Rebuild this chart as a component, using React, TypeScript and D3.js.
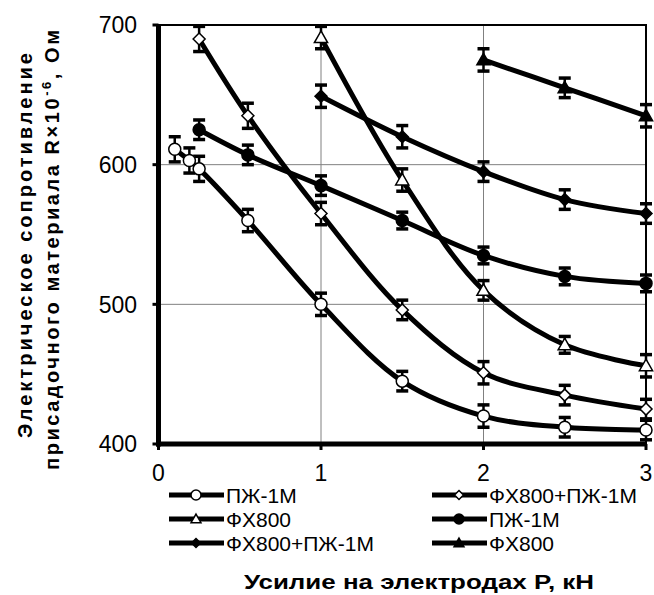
import React, { useEffect, useRef } from "react";
import * as d3 from "d3";

// x values (force P, kN) and resistance values for each series
const xOpenPzh = [0.1, 0.19, 0.25, 0.55, 1, 1.5, 2, 2.5, 3];
const yOpenPzh = [611, 603, 597, 560, 500, 445, 420, 412, 410];
const eOpenPzh = [9, 9, 9, 8, 8, 7, 8, 7, 7];

const xOpenMix = [0.25, 0.55, 1, 1.5, 2, 2.5, 3];
const yOpenMix = [690, 635, 565, 496, 451, 435, 425];
const eOpenMix = [9, 9, 8, 7, 8, 7, 7];

const xOpenFx = [1, 1.5, 2, 2.5, 3];
const yOpenFx = [691, 589, 510, 471, 456];
const eOpenFx = [8, 8, 7, 6, 8];

const xFilledPzh = [0.25, 0.55, 1, 1.5, 2, 2.5, 3];
const yFilledPzh = [625, 607, 585, 560, 535, 520, 515];
const eFilledPzh = [7, 7, 7, 6, 6, 6, 6];

const xFilledMix = [1, 1.5, 2, 2.5, 3];
const yFilledMix = [649, 620, 595, 575, 565];
const eFilledMix = [8, 8, 7, 7, 7];

const xFilledFx = [2, 2.5, 3];
const yFilledFx = [675, 655, 635];
const eFilledFx = [8, 7, 8];

const xTicks = [0, 1, 2, 3];
const yTicks = [400, 500, 600, 700];

const seriesList = [
  { name: "ПЖ-1М", marker: "circle", filled: false, xs: xOpenPzh, ys: yOpenPzh, es: eOpenPzh },
  { name: "ФХ800+ПЖ-1М", marker: "diamond", filled: false, xs: xOpenMix, ys: yOpenMix, es: eOpenMix },
  { name: "ФХ800", marker: "triangle", filled: false, xs: xOpenFx, ys: yOpenFx, es: eOpenFx },
  { name: "ПЖ-1М", marker: "circle", filled: true, xs: xFilledPzh, ys: yFilledPzh, es: eFilledPzh },
  { name: "ФХ800+ПЖ-1М", marker: "diamond", filled: true, xs: xFilledMix, ys: yFilledMix, es: eFilledMix },
  { name: "ФХ800", marker: "triangle", filled: true, xs: xFilledFx, ys: yFilledFx, es: eFilledFx },
];

const FONT = "'Liberation Sans', Arial, sans-serif";

function markerPath(type: string, s: number) {
  if (type === "circle") return d3.symbol(d3.symbolCircle, Math.PI * s * s)();
  if (type === "diamond") {
    return `M0,${-s}L${s},0L0,${s}L${-s},0Z`;
  }
  const h = s * 1.1;
  return `M0,${-h}L${h},${h * 0.75}L${-h},${h * 0.75}Z`;
}

const App = () => {
  const ref = useRef<SVGSVGElement>(null);

  useEffect(() => {
    const svg = d3.select(ref.current);
    svg.selectAll("*").remove();

    const x = d3.scaleLinear().domain([0, 3]).range([158.5, 646]);
    const y = d3.scaleLinear().domain([400, 700]).range([444, 25]);

    const g = svg.append("g");

    // grid
    g.selectAll("line.gx")
      .data([1, 2])
      .enter()
      .append("line")
      .attr("x1", (d) => x(d))
      .attr("x2", (d) => x(d))
      .attr("y1", y(400))
      .attr("y2", y(700))
      .attr("stroke", "#808080")
      .attr("stroke-width", 1);
    g.selectAll("line.gy")
      .data([500, 600])
      .enter()
      .append("line")
      .attr("x1", x(0))
      .attr("x2", x(3))
      .attr("y1", (d) => y(d))
      .attr("y2", (d) => y(d))
      .attr("stroke", "#808080")
      .attr("stroke-width", 1);

    // top/right frame
    g.append("path")
      .attr("d", `M${x(0)},${y(700)}H${x(3)}V${y(400)}`)
      .attr("fill", "none")
      .attr("stroke", "#000")
      .attr("stroke-width", 2);

    // series
    const line = d3
      .line<[number, number]>()
      .x((d) => x(d[0]))
      .y((d) => y(d[1]))
      .curve(d3.curveCatmullRom.alpha(0.5));

    seriesList.forEach((s) => {
      const pts: [number, number][] = s.xs.map((v, i) => [v, s.ys[i]]);
      g.append("path")
        .attr("d", line(pts))
        .attr("fill", "none")
        .attr("stroke", "#000")
        .attr("stroke-width", 5);

      const eb = g.append("g");
      pts.forEach((p, i) => {
        const cx = x(p[0]);
        const top = y(p[1] + s.es[i]);
        const bot = y(p[1] - s.es[i]);
        eb.append("line")
          .attr("x1", cx).attr("x2", cx)
          .attr("y1", top).attr("y2", bot)
          .attr("stroke", "#000").attr("stroke-width", 2.5);
        [top, bot].forEach((yy) => {
          eb.append("line")
            .attr("x1", cx - 6).attr("x2", cx + 6)
            .attr("y1", yy).attr("y2", yy)
            .attr("stroke", "#000").attr("stroke-width", 3.5);
        });
      });

      g.selectAll(null)
        .data(pts)
        .enter()
        .append("path")
        .attr("d", markerPath(s.marker, 6))
        .attr("transform", (d) => `translate(${x(d[0])},${y(d[1])})`)
        .attr("fill", s.filled ? "#000" : "#fff")
        .attr("stroke", "#000")
        .attr("stroke-width", 1.5);
    });

    // axes lines
    g.append("line")
      .attr("x1", x(0)).attr("x2", x(0))
      .attr("y1", y(700) - 1).attr("y2", y(400) + 2.5)
      .attr("stroke", "#000").attr("stroke-width", 5);
    g.append("line")
      .attr("x1", x(0) - 2.5).attr("x2", x(3) + 1)
      .attr("y1", y(400)).attr("y2", y(400))
      .attr("stroke", "#000").attr("stroke-width", 5);

    // ticks
    g.selectAll("line.ty")
      .data(yTicks)
      .enter()
      .append("line")
      .attr("x1", x(0) - 6).attr("x2", x(0))
      .attr("y1", (d) => y(d)).attr("y2", (d) => y(d))
      .attr("stroke", "#000").attr("stroke-width", 3);
    g.selectAll("line.tx")
      .data(xTicks)
      .enter()
      .append("line")
      .attr("x1", (d) => x(d)).attr("x2", (d) => x(d))
      .attr("y1", y(400)).attr("y2", y(400) + 6)
      .attr("stroke", "#000").attr("stroke-width", 3);

    // tick labels
    g.selectAll("text.yl")
      .data(yTicks)
      .enter()
      .append("text")
      .attr("x", 137)
      .attr("y", (d) => y(d))
      .attr("dy", "0.36em")
      .attr("text-anchor", "end")
      .style("font-family", FONT)
      .style("font-size", "23px")
      .text((d) => d);
    g.selectAll("text.xl")
      .data(xTicks)
      .enter()
      .append("text")
      .attr("x", (d) => x(d))
      .attr("y", 481)
      .attr("text-anchor", "middle")
      .style("font-family", FONT)
      .style("font-size", "23px")
      .text((d) => d);

    // legend
    const legend = g.append("g");
    seriesList.forEach((s, i) => {
      const col = i % 2;
      const row = Math.floor(i / 2);
      const lx = col === 0 ? 169 : 432;
      const ly = 495 + row * 24;
      legend.append("line")
        .attr("x1", lx).attr("x2", lx + 55)
        .attr("y1", ly).attr("y2", ly)
        .attr("stroke", "#000").attr("stroke-width", 5);
      legend.append("path")
        .attr("d", markerPath(s.marker, s.marker === "circle" ? 5 : 4.5))
        .attr("transform", `translate(${lx + 27},${ly})`)
        .attr("fill", s.filled ? "#000" : "#fff")
        .attr("stroke", "#000")
        .attr("stroke-width", 1.5);
      legend.append("text")
        .attr("x", lx + 57)
        .attr("y", ly)
        .attr("dy", "0.36em")
        .style("font-family", FONT)
        .style("font-size", "21px")
        .text(s.name);
    });

    // axis titles
    g.append("text")
      .attr("x", 419)
      .attr("y", 589)
      .attr("text-anchor", "middle")
      .attr("textLength", 350)
      .attr("lengthAdjust", "spacingAndGlyphs")
      .style("font-family", FONT)
      .style("font-size", "21px")
      .style("font-weight", "bold")
      .text("Усилие на электродах P, кН");

    const t1 = g.append("text")
      .attr("transform", "translate(32,438) rotate(-90)")
      .attr("textLength", 385)
      .attr("lengthAdjust", "spacing")
      .style("font-family", FONT)
      .style("font-size", "20px")
      .style("font-weight", "bold");
    t1.text("Электрическое сопротивление");

    const t2 = g.append("text")
      .attr("transform", "translate(59,470) rotate(-90)")
      .attr("textLength", 440)
      .attr("lengthAdjust", "spacing")
      .style("font-family", FONT)
      .style("font-size", "20px")
      .style("font-weight", "bold");
    t2.append("tspan").text("присадочного материала R×10");
    t2.append("tspan").attr("dy", -8).style("font-size", "13px").text("-6");
    t2.append("tspan").attr("dy", 8).text(", Ом");
  }, []);

  return (
    <svg
      ref={ref}
      width={654}
      height={595}
      style={{ position: "absolute", left: 0, top: 0, background: "#fff" }}
    ></svg>
  );
};

export default App;
